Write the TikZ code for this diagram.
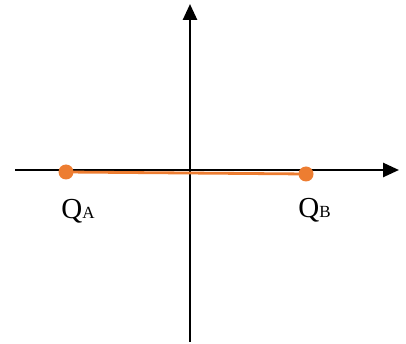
\documentclass[tikz,border=0pt]{standalone}
\usepackage{fontspec}
\setmainfont{Liberation Serif}
\usetikzlibrary{arrows.meta}
\definecolor{qorange}{HTML}{ED7D31}
\begin{document}
\begin{tikzpicture}[x=1pt,y=-1pt,
  axis/.style={line width=2.6pt,-{Triangle[length=16pt,width=14pt]}},
  qdot/.style={circle,fill=qorange,inner sep=0pt,minimum size=15pt},
  qlabel/.style={anchor=base,inner sep=0pt,font=\fontsize{29}{30}\selectfont}]
\useasboundingbox (0,0) rectangle (406,344);
\coordinate (xl) at (15,170);
\coordinate (xr) at (399,170);
\coordinate (yb) at (190,342);
\coordinate (yt) at (190,4);
\draw[axis] (xl) -- (xr);
\draw[axis] (yb) -- (yt);
\coordinate (pa) at (66,172);
\coordinate (pb) at (306,174);
\draw[qorange,line width=2.8pt] (pa) -- (pb);
\node[qdot] (qa) at (pa) {};
\node[qdot] (qb) at (pb) {};
\node[qlabel] (la) at (78,219) {Q{\fontsize{17}{18}\selectfont A}};
\node[qlabel] (lb) at (314.5,218) {Q{\fontsize{17}{18}\selectfont B}};
\end{tikzpicture}
\end{document}
